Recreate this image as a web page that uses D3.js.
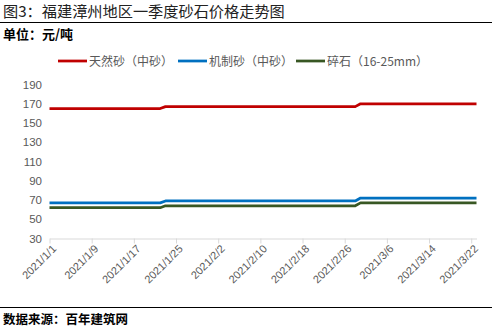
<!DOCTYPE html>
<html>
<head>
<meta charset="utf-8">
<script src="https://cdn.jsdelivr.net/npm/d3@7"></script>
<style>
  html, body { margin: 0; padding: 0; background: #fff; }
  svg { display: block; }
</style>
</head>
<body>
<svg id="chart" width="492" height="331"></svg>
<script>
// Price observations (元/吨) – each row is a recorded date
const dates = ["2021-01-01", "2021-01-22", "2021-01-23", "2021-02-28", "2021-03-01", "2021-03-23"];
const naturalSand = [165, 165, 167, 167, 170, 170];   // 天然砂（中砂）
const machineSand = [67, 67, 69, 69, 72, 72];         // 机制砂（中砂）
const gravel = [62, 62, 64, 64, 67, 67];              // 碎石（16-25mm）

const seriesNames = ["天然砂（中砂）", "机制砂（中砂）", "碎石（16-25mm）"];
const seriesColors = ["#C00000", "#0070C0", "#385723"];

const yTicks = [30, 50, 70, 90, 110, 130, 150, 170, 190];
const xTickLabels = ["2021/1/1", "2021/1/9", "2021/1/17", "2021/1/25", "2021/2/2", "2021/2/10",
  "2021/2/18", "2021/2/26", "2021/3/6", "2021/3/14", "2021/3/22"];

const CJK = "'Noto Sans CJK SC', 'Microsoft YaHei', sans-serif";
const LAT = "'Liberation Sans', Arial, sans-serif";

const parse = d3.timeParse("%Y-%m-%d");
const parseTick = d3.timeParse("%Y/%m/%d");
const svg = d3.select("#chart");

// Header
svg.append("text").attr("x", 3).attr("y", 17)
  .attr("font-family", CJK).attr("font-size", 15.2).attr("fill", "#222")
  .text("图3：福建漳州地区一季度砂石价格走势图");
svg.append("line").attr("x1", 0).attr("x2", 492).attr("y1", 22.5).attr("y2", 22.5)
  .attr("stroke", "#000").attr("stroke-width", 1);
svg.append("text").attr("x", 3).attr("y", 39)
  .attr("font-family", CJK).attr("font-size", 13).attr("font-weight", "bold").attr("fill", "#000")
  .text("单位：元/吨");

// Scales
const x = d3.scaleTime()
  .domain([parse("2021-01-01"), parse("2021-03-23")])
  .range([49.5, 476.5]);
const y = d3.scaleLinear().domain([30, 190]).range([238.5, 84.5]);

// Y axis labels (no axis line)
const yAxis = svg.append("g").attr("transform", "translate(42,0)")
  .call(d3.axisLeft(y).tickValues(yTicks).tickSize(0).tickPadding(0));
yAxis.select(".domain").remove();
yAxis.selectAll("text").attr("font-family", LAT).attr("font-size", 11.5).attr("fill", "#595959");

// X axis
const xTickDates = xTickLabels.map(parseTick);
const xAxis = svg.append("g").attr("transform", "translate(0,238.5)")
  .call(d3.axisBottom(x).tickValues(xTickDates).tickSizeInner(5).tickSizeOuter(0)
    .tickFormat((d, i) => xTickLabels[i]));
xAxis.select(".domain").attr("stroke", "#d9d9d9");
xAxis.selectAll(".tick line").attr("stroke", "#d9d9d9");
xAxis.selectAll("text")
  .attr("font-family", LAT).attr("font-size", 11).attr("fill", "#595959")
  .attr("text-anchor", "end")
  .attr("dy", null).attr("y", 0)
  .attr("transform", "translate(7,11) rotate(-45)");

// Lines
const seriesValues = [naturalSand, machineSand, gravel];
const line = d3.line().x(d => x(d.date)).y(d => y(d.value));
seriesValues.forEach((vals, k) => {
  const pts = dates.map((d, i) => ({ date: parse(d), value: vals[i] }));
  svg.append("path").datum(pts)
    .attr("d", line)
    .attr("fill", "none")
    .attr("stroke", seriesColors[k])
    .attr("stroke-width", 2.75)
    .attr("stroke-linejoin", "round");
});

// Legend
const legendX = [58, 178, 296];
seriesNames.forEach((name, k) => {
  const g = svg.append("g").attr("transform", `translate(${legendX[k]},61)`);
  g.append("line").attr("x1", 0).attr("x2", 29).attr("y1", 0).attr("y2", 0)
    .attr("stroke", seriesColors[k]).attr("stroke-width", 2.75);
  g.append("text").attr("x", 31).attr("y", 4.5)
    .attr("font-family", CJK).attr("font-size", 12).attr("fill", "#595959")
    .text(name);
});

// Footer
svg.append("line").attr("x1", 0).attr("x2", 492).attr("y1", 307.5).attr("y2", 307.5)
  .attr("stroke", "#000").attr("stroke-width", 1);
svg.append("text").attr("x", 3).attr("y", 324)
  .attr("font-family", CJK).attr("font-size", 12.5).attr("font-weight", "bold").attr("fill", "#000")
  .text("数据来源：百年建筑网");
</script>
</body>
</html>
